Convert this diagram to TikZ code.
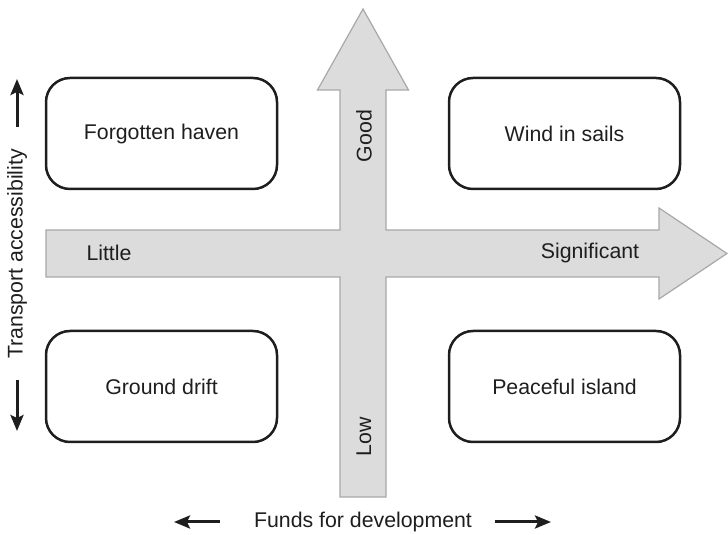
\documentclass[tikz,border=0pt]{standalone}
\usepackage{fontspec}
\setmainfont{Liberation Sans}
\usetikzlibrary{arrows.meta}
\definecolor{txt}{HTML}{1E1E1E}
\definecolor{arrfill}{HTML}{DCDCDC}
\definecolor{arrdraw}{HTML}{A8A8A8}
\begin{document}
\begin{tikzpicture}[x=1pt,y=1pt,
  lbl/.style={font=\fontsize{21.3}{25}\selectfont, text=txt, inner sep=0pt},
  quad/.style={draw=txt, line width=2.5pt, rounded corners=24pt, minimum width=231pt, minimum height=111pt, font=\fontsize{21.3}{25}\selectfont, text=txt},
  axarrow/.style={line width=3pt, draw=txt, -{Stealth[length=16pt,width=13pt,inset=3pt]}}
]
\useasboundingbox (0,0) rectangle (728,535);
% big cross of arrows
\draw[fill=arrfill, draw=arrdraw, line width=1.2pt, line join=miter]
  (340,38) -- (340,258) -- (46,258) -- (46,305) -- (340,305) -- (340,445)
  -- (317.5,445) -- (363,526) -- (408.5,445) -- (386,445) -- (386,305)
  -- (659,305) -- (659,327) -- (727,281.5) -- (659,236) -- (659,258)
  -- (386,258) -- (386,38) -- cycle;
% quadrant boxes
\node[quad] (fh) at (161.5,401.5) {Forgotten haven};
\node[quad] (ws) at (564.5,401.5) {Wind in sails};
\node[quad] (gd) at (161.5,148.5) {Ground drift};
\node[quad] (pi) at (564.5,148.5) {Peaceful island};
% arrow labels
\node[lbl] (little) at (109,282) {Little};
\node[lbl] (sig) at (590,282) {Significant};
\node[lbl, rotate=90] (good) at (364,399) {Good};
\node[lbl, rotate=90] (low) at (364,98) {Low};
% axis titles
\node[lbl, rotate=90] (ta) at (17,281) {Transport accessibility};
\node[lbl] (fd) at (363,13) {Funds for development};
\coordinate (tu1) at (17,408);
\coordinate (tu2) at (17,456);
\coordinate (td1) at (17,155);
\coordinate (td2) at (17,104);
\coordinate (fl1) at (220,13);
\coordinate (fl2) at (174,13);
\coordinate (fr1) at (495,13);
\coordinate (fr2) at (551,13);
\draw[axarrow] (tu1) -- (tu2);
\draw[axarrow] (td1) -- (td2);
\draw[axarrow] (fl1) -- (fl2);
\draw[axarrow] (fr1) -- (fr2);
\end{tikzpicture}
\end{document}
